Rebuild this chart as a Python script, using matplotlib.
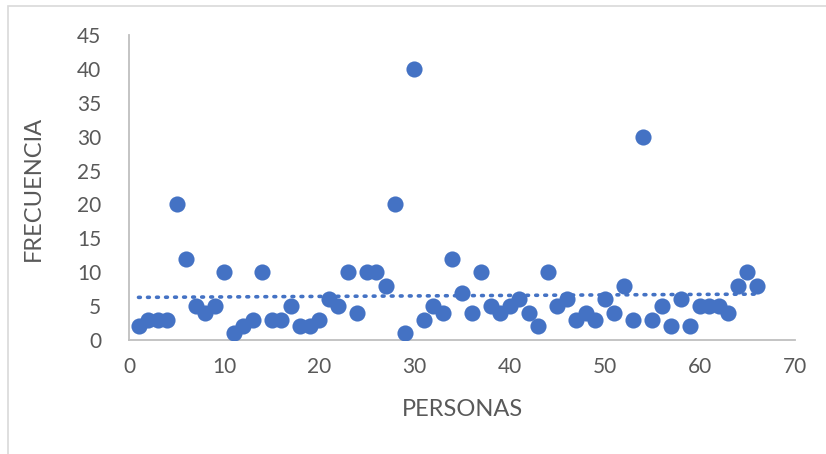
import numpy as np
import matplotlib
matplotlib.use("Agg")
import matplotlib.pyplot as plt
from matplotlib.patches import Rectangle

personas = list(range(1, 67))
frecuencia = [2, 3, 3, 3, 20, 12, 5, 4, 5, 10,
              1, 2, 3, 10, 3, 3, 5, 2, 2, 3,
              6, 5, 10, 4, 10, 10, 8, 20, 1, 40,
              3, 5, 4, 12, 7, 4, 10, 5, 4, 5,
              6, 4, 2, 10, 5, 6, 3, 4, 3, 6,
              4, 8, 3, 30, 3, 5, 2, 6, 2, 5,
              5, 5, 4, 8, 10, 8]
x_ticks = [0, 10, 20, 30, 40, 50, 60, 70]
y_ticks = [0, 5, 10, 15, 20, 25, 30, 35, 40, 45]

plt.rcParams['font.family'] = ['Lato', 'DejaVu Sans']
blue = '#4472C4'
gray_txt = '#595959'

fig = plt.figure(figsize=(8.26, 4.54), dpi=100)
fig.patches.append(Rectangle((8/826, -0.1), 1.2, (454-6)/454 + 0.1, transform=fig.transFigure,
                             fill=False, edgecolor='#D9D9D9', linewidth=1.2))
ax = fig.add_axes([129/826, 1-340/454, (795-129)/826, (340-35)/454])

x = np.array(personas, dtype=float)
y = np.array(frecuencia, dtype=float)
ax.scatter(x, y, s=135, color=blue, zorder=3, linewidths=0)
m, b = np.polyfit(x, y, 1)
xt = np.array([x.min(), x.max()])
ax.plot(xt, m*xt + b, color=blue, linewidth=2.6, linestyle=(0, (0.5, 2.0)),
        dash_capstyle='round', zorder=2)

ax.set_xlim(0, 70)
ax.set_ylim(0, 45)
ax.set_xticks(x_ticks)
ax.set_yticks(y_ticks)
ax.tick_params(length=0, labelsize=15, colors=gray_txt, pad=20)
ax.tick_params(axis='x', pad=12)
for s in ['top', 'right']:
    ax.spines[s].set_visible(False)
for s in ['left', 'bottom']:
    ax.spines[s].set_color('#BFBFBF')
    ax.spines[s].set_linewidth(1.3)
ax.set_clip_on(False)

fig.text(463/826, 1-410/454, 'PERSONAS', ha='center', va='center', fontsize=17, color=gray_txt)
fig.text(33/826, 1-188/454, 'FRECUENCIA', ha='center', va='center', rotation=90, fontsize=17, color=gray_txt)

fig.savefig('out.png', dpi=100)
